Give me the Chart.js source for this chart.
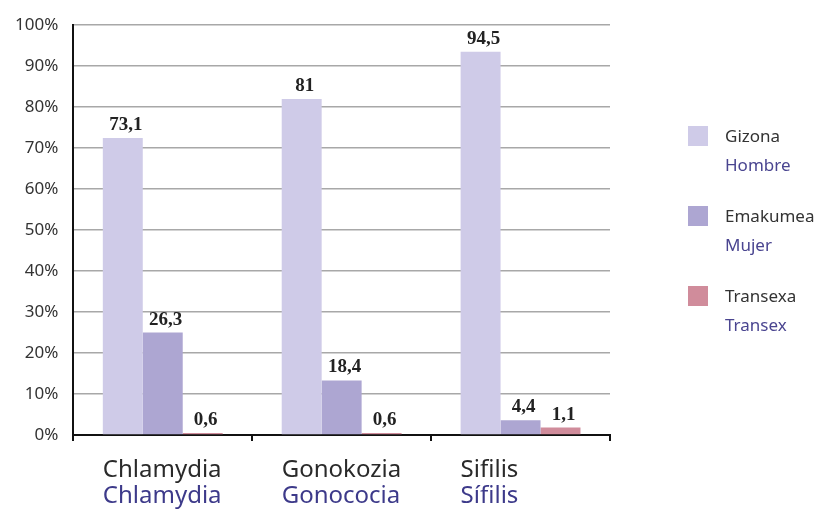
<!DOCTYPE html>
<html>
<head>
<meta charset="utf-8">
<script src="https://cdn.jsdelivr.net/npm/chart.js@4"></script>
<style>
    html, body { margin: 0; padding: 0; background: #fff; }
    #wrap { position: relative; width: 822px; height: 509px; }
    #legend { position: absolute; left: 688px; top: 126px; font-family: "Noto Sans", sans-serif; }
    .item { position: relative; height: 80px; }
    .swatch { position: absolute; left: 0; top: 0; width: 20px; height: 20px; }
    .txt { position: absolute; left: 37px; top: -5px; font-size: 17px; line-height: 29px; white-space: nowrap; }
    .eu { color: #333; }
    .es { color: #4a4590; }
</style>
</head>
<body>
<div id="wrap">
    <canvas id="chart" width="822" height="509"></canvas>
    <div id="legend"></div>
</div>
<script>
// Categories (Basque / Spanish)
const categoriesEu = ['Chlamydia', 'Gonokozia', 'Sifilis'];
const categoriesEs = ['Chlamydia', 'Gonococia', 'Sífilis'];

// Series names
const seriesEu = ['Gizona', 'Emakumea', 'Transexa'];
const seriesEs = ['Hombre', 'Mujer', 'Transex'];
const seriesColors = ['#cfcbe8', '#ada6d2', '#d08c9b'];

// Bar heights as drawn in the picture (%)
const gizonaValues = [72.5, 82, 93.5];
const emakumeaValues = [25, 13.3, 3.6];
const transexaValues = [0.5, 0.5, 1.8];

// Printed value labels
const gizonaLabels = ['73,1', '81', '94,5'];
const emakumeaLabels = ['26,3', '18,4', '4,4'];
const transexaLabels = ['0,6', '0,6', '1,1'];

const valueLabels = [gizonaLabels, emakumeaLabels, transexaLabels];
const seriesValues = [gizonaValues, emakumeaValues, transexaValues];

// Value labels above bars
const barLabelsPlugin = {
    id: 'barLabels',
    afterDatasetsDraw(chart) {
        const ctx = chart.ctx;
        ctx.save();
        ctx.font = 'bold 19px "Liberation Serif", serif';
        ctx.fillStyle = '#222';
        ctx.textAlign = 'center';
        ctx.textBaseline = 'alphabetic';
        chart.data.datasets.forEach((ds, i) => {
            const meta = chart.getDatasetMeta(i);
            meta.data.forEach((bar, j) => {
                ctx.fillText(valueLabels[i][j], bar.x + 3, bar.y - 8);
            });
        });
        ctx.restore();
    }
};

// Two-line category labels (Basque in dark, Spanish in blue), left-aligned to the bar group
const categoryLabelsPlugin = {
    id: 'categoryLabels',
    afterDraw(chart) {
        const ctx = chart.ctx;
        const xScale = chart.scales.x;
        const base = chart.chartArea.bottom;
        const groupHalf = xScale.width / categoriesEu.length * 0.67 / 2;
        ctx.save();
        ctx.font = '24px "Noto Sans", sans-serif';
        ctx.textAlign = 'left';
        ctx.textBaseline = 'alphabetic';
        categoriesEu.forEach((name, i) => {
            const x = xScale.getPixelForTick(i) - groupHalf;
            ctx.fillStyle = '#2a2a2a';
            ctx.fillText(name, x, base + 42);
            ctx.fillStyle = '#3d3a8a';
            ctx.fillText(categoriesEs[i], x, base + 68);
        });
        ctx.restore();
    }
};

function buildLegend() {
    const legend = document.getElementById('legend');
    seriesEu.forEach((name, i) => {
        const item = document.createElement('div');
        item.className = 'item';
        item.innerHTML = `<div class="swatch" style="background:${seriesColors[i]}"></div>` +
            `<div class="txt"><div class="eu">${name}</div><div class="es">${seriesEs[i]}</div></div>`;
        legend.appendChild(item);
    });
}

function initializeChart() {
    const ctx = document.getElementById('chart');
    new Chart(ctx, {
        type: 'bar',
        data: {
            labels: categoriesEu,
            datasets: seriesEu.map((name, i) => ({
                label: name,
                data: seriesValues[i],
                backgroundColor: seriesColors[i],
                borderWidth: 0,
                categoryPercentage: 0.67,
                barPercentage: 1.0
            }))
        },
        options: {
            responsive: false,
            animation: false,
            layout: {
                padding: { top: 14, right: 212, bottom: 68, left: 0 }
            },
            plugins: {
                legend: { display: false },
                tooltip: { enabled: false }
            },
            scales: {
                x: {
                    position: 'bottom',
                    offset: true,
                    border: { display: true, color: '#111', width: 2 },
                    grid: {
                        drawOnChartArea: false,
                        drawTicks: true,
                        tickLength: 6,
                        color: '#111',
                        lineWidth: 2
                    },
                    ticks: { display: false }
                },
                y: {
                    min: 0,
                    max: 100,
                    border: { display: true, color: '#111', width: 2 },
                    grid: {
                        color: '#a8a8a8',
                        lineWidth: 1.5,
                        drawTicks: false
                    },
                    ticks: {
                        stepSize: 10,
                        font: { family: 'Noto Sans', size: 17 },
                        color: '#333',
                        padding: 15,
                        callback: function (value) {
                            return value + '%';
                        }
                    }
                }
            }
        },
        plugins: [barLabelsPlugin, categoryLabelsPlugin]
    });
}

buildLegend();
initializeChart();
</script>
</body>
</html>
